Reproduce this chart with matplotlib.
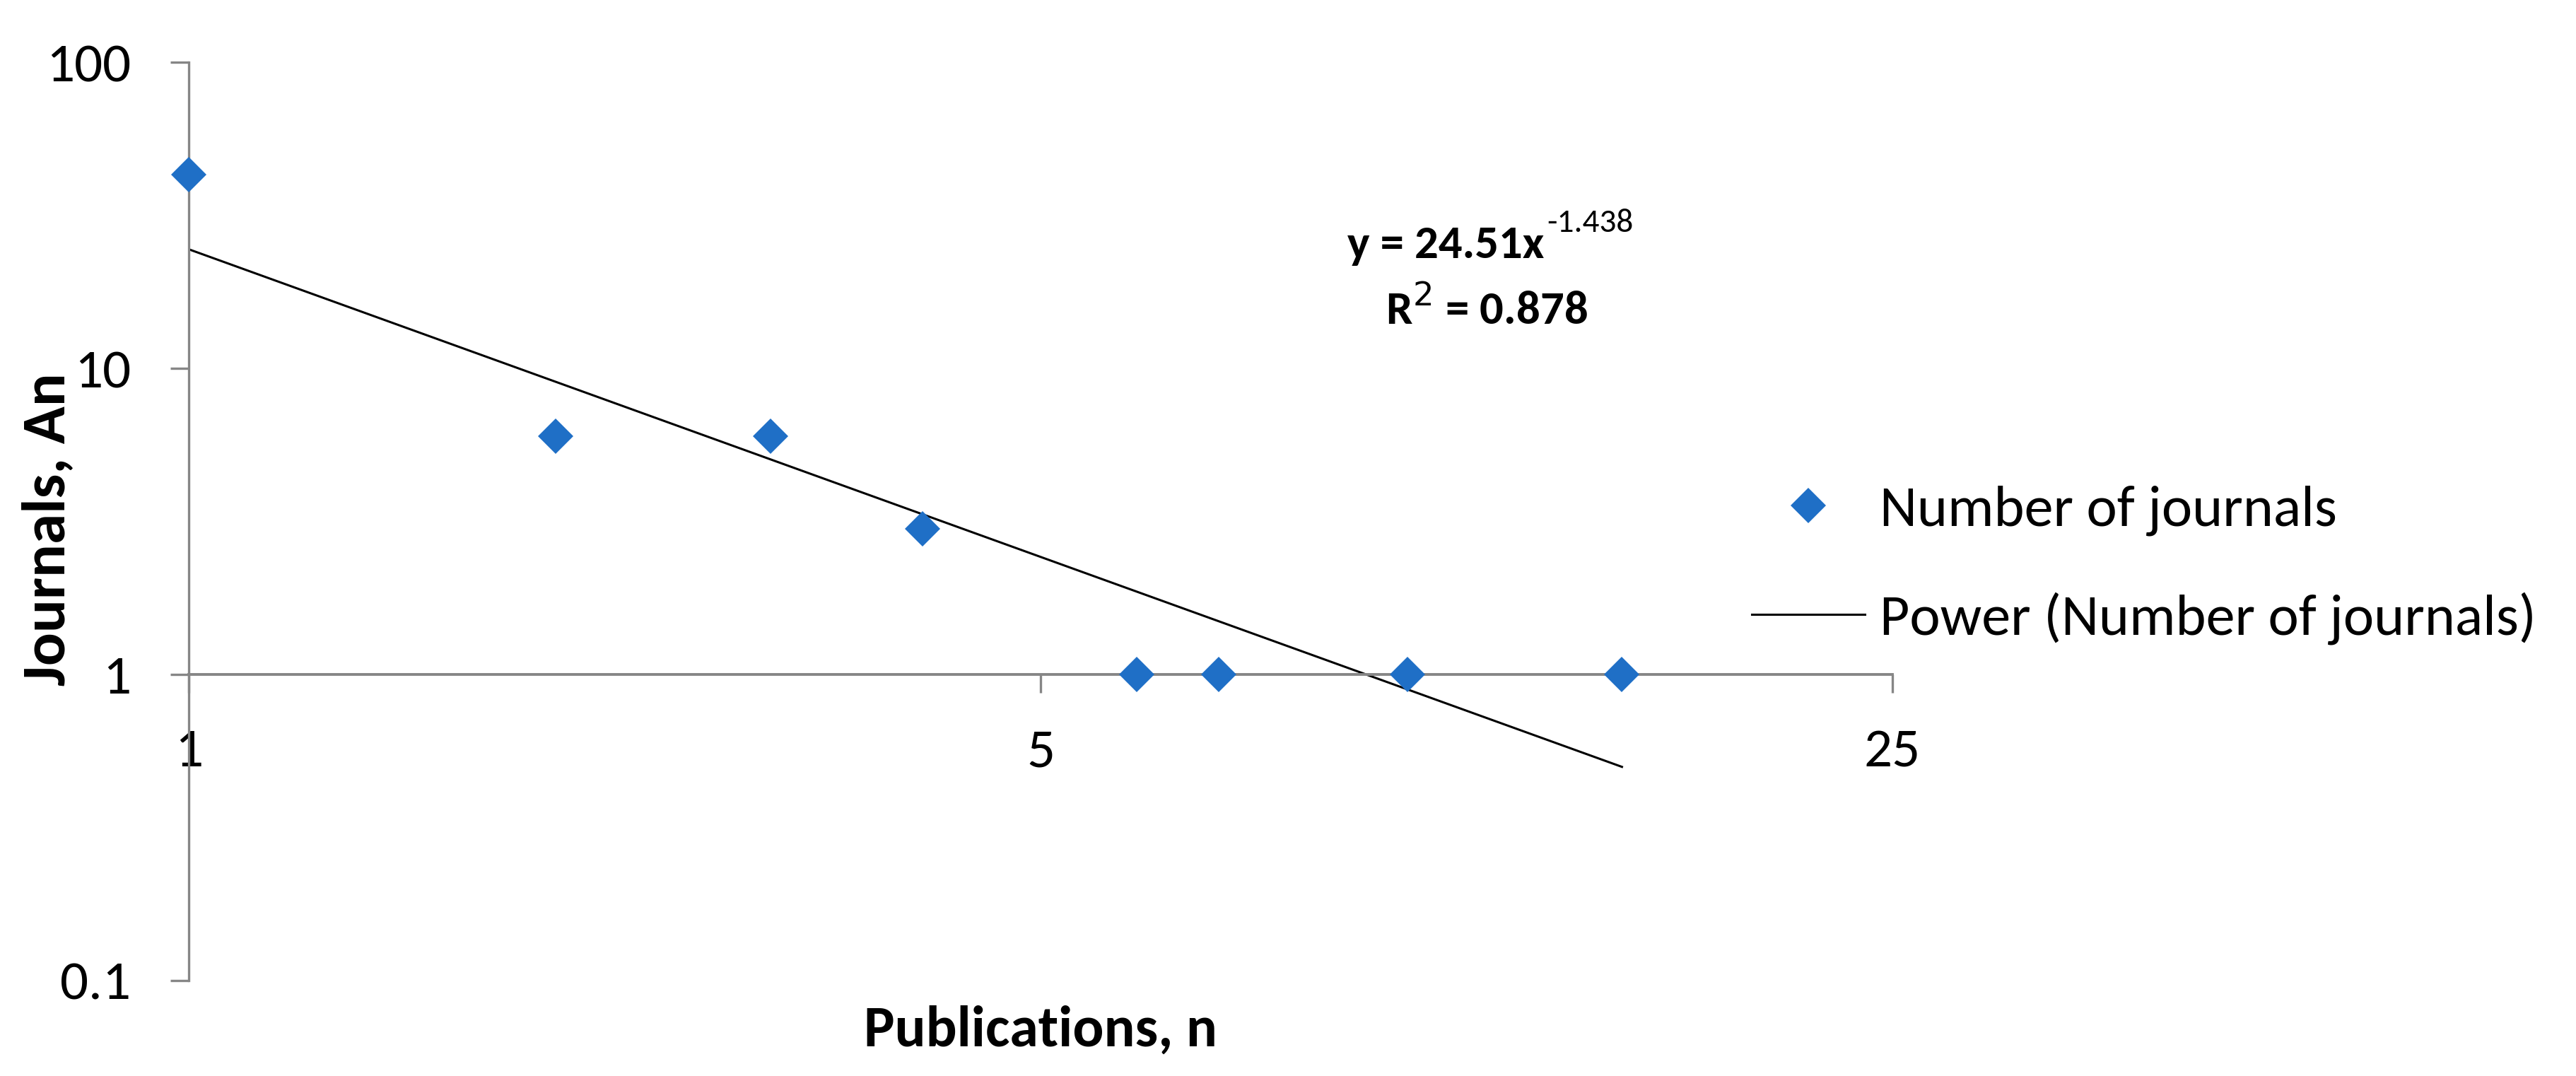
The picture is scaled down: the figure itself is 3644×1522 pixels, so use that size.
import numpy as np
import matplotlib
matplotlib.use('Agg')
import matplotlib.pyplot as plt
import matplotlib.ticker as ticker

plt.rcParams['font.family'] = ['Carlito', 'Liberation Sans', 'DejaVu Sans']

# data
publications = [1, 2, 3, 4, 6, 7, 10, 15]
journals = [43, 6, 6, 3, 1, 1, 1, 1]
eq_main = 'y = 24.51x'
eq_sup = '-1.438'
r2_text = 'R$^{2}$ = 0.878'
x_ticks = [1, 5, 25]
y_ticks = [0.1, 1, 10, 100]
y_ticklabels = ['0.1', '1', '10', '100']

# power trendline (least squares in log-log space, as Excel does)
b, ln_a = np.polyfit(np.log(publications), np.log(journals), 1)
x_fit = np.linspace(min(publications), max(publications), 200)
y_fit = np.exp(ln_a) * x_fit ** b

axis_col = '#868686'
blue = '#1F6FC6'

fig = plt.figure(figsize=(36.44, 15.22), dpi=100)
ax = fig.add_axes([0.0733, 0.0887, 0.6613, 0.8533])

ax.plot(x_fit, y_fit, color='black', lw=2.2, label='Power (Number of journals)', zorder=2)
ax.plot(publications, journals, ls='none', marker='D', ms=25, color=blue,
        mec=blue, mew=0, label='Number of journals', zorder=3, clip_on=False)

ax.set_xscale('log', base=5)
ax.set_yscale('log')
ax.set_xlim(1, 25)
ax.set_ylim(0.1, 100)

ax.xaxis.set_major_locator(ticker.FixedLocator(x_ticks))
ax.xaxis.set_major_formatter(ticker.FixedFormatter([str(v) for v in x_ticks]))
ax.xaxis.set_minor_locator(ticker.NullLocator())
ax.yaxis.set_major_locator(ticker.FixedLocator(y_ticks))
ax.yaxis.set_major_formatter(ticker.FixedFormatter(y_ticklabels))
ax.yaxis.set_minor_locator(ticker.NullLocator())

for s in ['top', 'right']:
    ax.spines[s].set_visible(False)
ax.spines['bottom'].set_position(('data', 1))
ax.spines['bottom'].set_color(axis_col)
ax.spines['left'].set_color(axis_col)
ax.spines['bottom'].set_linewidth(2.8)
ax.spines['left'].set_linewidth(2.4)
ax.tick_params(axis='both', colors=axis_col, labelcolor='black', labelsize=57,
               length=19, width=2.4)
ax.tick_params(axis='x', pad=36)
ax.tick_params(axis='y', pad=40)

fig.text(0.404, 0.0427, 'Publications, n', ha='center', va='center',
         fontsize=59, fontweight='bold')
fig.text(0.0185, 0.508, 'Journals, An', ha='center', va='center', rotation=90,
         fontsize=63, fontweight='bold')

# trendline equation, superscript placed right after the main text
x_split = 0.5995
fig.text(x_split, 0.772, eq_main, ha='right', va='center', fontsize=48,
         fontweight='bold')
fig.text(x_split + 0.001, 0.793, eq_sup, ha='left', va='center', fontsize=34)
fig.text(0.577, 0.713, r2_text, ha='center', va='center', fontsize=48,
         fontweight='bold')

h, l = ax.get_legend_handles_labels()
leg = fig.legend(h[::-1], l[::-1], loc='center left', bbox_to_anchor=(0.680, 0.475),
                 frameon=False, fontsize=59, handlelength=1.95, handletextpad=0.26,
                 labelspacing=0.96, borderpad=0, borderaxespad=0)

fig.savefig('out.png', dpi=100, facecolor='white')
